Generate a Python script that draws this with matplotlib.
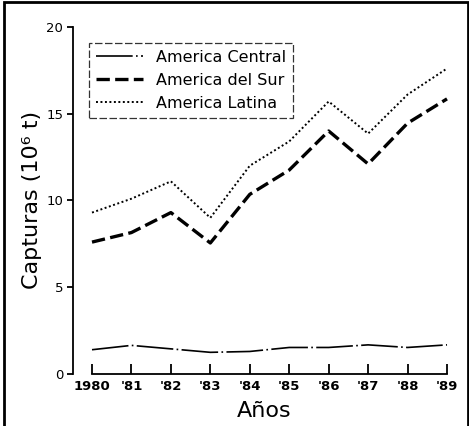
import matplotlib
matplotlib.use("Agg")
import matplotlib.pyplot as plt
from matplotlib.patches import Rectangle

years = [1980, 1981, 1982, 1983, 1984, 1985, 1986, 1987, 1988, 1989]
year_labels = ["1980", "'81", "'82", "'83", "'84", "'85", "'86", "'87", "'88", "'89"]
central = [1.4, 1.65, 1.45, 1.25, 1.3, 1.53, 1.53, 1.68, 1.53, 1.68]
sur = [7.6, 8.15, 9.3, 7.55, 10.35, 11.75, 14.0, 12.1, 14.45, 15.85]
latina = [9.3, 10.1, 11.1, 9.0, 12.0, 13.4, 15.7, 13.85, 16.1, 17.6]
yticks = [0, 5, 10, 15, 20]

plt.rcParams['font.family'] = ['DejaVu Sans']
fig = plt.figure(figsize=(4.69, 4.26), dpi=100)
fig.patches.append(Rectangle((0.009, -0.01), 0.988, 1.005, transform=fig.transFigure,
                             fill=False, edgecolor='black', linewidth=2.0))

ax = fig.add_axes([73/469, 0.122, (455-73)/469, 0.815])
ax.plot(years, central, color='black', linewidth=1.2, linestyle=(0, (22, 2, 1, 2)),
        label='America Central')
ax.plot(years, sur, color='black', linewidth=2.4, linestyle=(0, (4, 1.6)),
        label='America del Sur')
ax.plot(years, latina, color='black', linewidth=1.4, linestyle=(0, (1, 1.3)),
        label='America Latina')

ax.set_xlim(1980 - 19/39.44, 1989 + 8/39.44)
ax.set_ylim(0, 20)
for s in ['top', 'right']:
    ax.spines[s].set_visible(False)
ax.spines['bottom'].set_bounds(1980, 1989)
ax.spines['left'].set_linewidth(1.3)
ax.spines['bottom'].set_linewidth(1.3)
ax.set_xticks(years)
ax.set_xticklabels(year_labels, fontsize=9.5, fontweight='bold')
ax.set_yticks(yticks)
ax.set_yticklabels([str(v) for v in yticks], fontsize=9.5)
ax.tick_params(axis='x', direction='in', length=7, width=1.3, pad=4)
ax.tick_params(axis='y', direction='out', length=4, width=1.3, pad=3)

ax.set_ylabel('Capturas (10⁶ t)', fontsize=16, labelpad=3)
ax.set_xlabel('Años', fontsize=16, labelpad=6)

leg = ax.legend(loc='upper left', bbox_to_anchor=(0.042, 0.954), fontsize=11.5,
                frameon=True, fancybox=False, handlelength=2.9, borderpad=0.45,
                labelspacing=0.5, handletextpad=0.85, borderaxespad=0)
leg.get_frame().set_edgecolor('black')
leg.get_frame().set_linewidth(0.9)
leg.get_frame().set_linestyle((0, (6, 2)))

fig.savefig('out.png', dpi=100)
